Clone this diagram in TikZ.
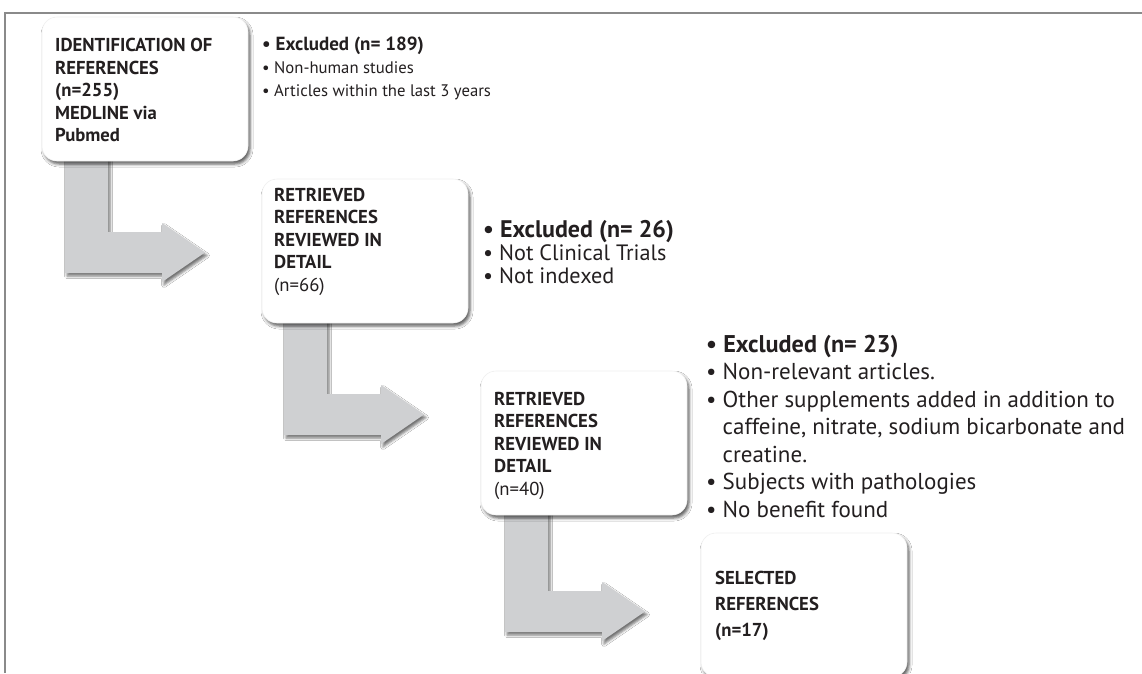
\documentclass[tikz,border=0pt]{standalone}
\usepackage{fontspec}
\setmainfont{PT Sans}
\usetikzlibrary{shadows.blur}
\definecolor{txt}{HTML}{231F20}
\definecolor{arrowgray}{HTML}{CFD0D2}
\definecolor{framegray}{HTML}{8A8A8A}
\tikzset{
  refbox/.style={draw=black!6, line width=0.6pt, fill=white, rounded corners=15pt,
    blur shadow={shadow xshift=2pt, shadow yshift=-3pt, shadow blur radius=3pt, shadow opacity=65}},
  boxtext/.style={inner sep=0pt, anchor=north west, align=left, text=txt,
    font=\fontsize{18.7}{22.5}\selectfont\bfseries},
  grouptext/.style={inner sep=0pt, anchor=north west, align=left, text=txt},
  bigarrow/.style={fill=arrowgray, draw=none,
    blur shadow={shadow xshift=2pt, shadow yshift=-3pt, shadow blur radius=2.5pt, shadow opacity=55}},
  frameline/.style={draw=framegray, line width=1.3pt}
}
\begin{document}
\begin{tikzpicture}[x=1pt,y=-1pt]
\path[use as bounding box, clip] (0,0) rectangle (1142,673);
\fill[white] (0,0) rectangle (1142,673);
% frame
\coordinate (fl) at (5,673);
\coordinate (fc) at (5,13);
\coordinate (fr) at (1142,13);
\draw[frameline] (fl) -- (fc) -- (fr);

% arrows (drawn first, boxes cover their tops)
\foreach \sx/\sy/\by in {65/150/273, 284/313/435, 505/505/632}{
  \path[bigarrow] (\sx,\sy) -- (\sx+43,\sy) -- (\sx+43,\by-41) -- (\sx+97,\by-41)
    -- (\sx+97,\by-50) -- (\sx+140,\by-20.5) -- (\sx+97,\by+9) -- (\sx+97,\by) -- (\sx,\by) -- cycle;
}

% boxes
\coordinate (b1) at (42,17);
\coordinate (b2) at (262,179);
\coordinate (b3) at (481,371);
\coordinate (b4) at (701,533);
\foreach \b in {b1,b2,b3,b4}{
  \path[refbox] (\b) rectangle ++(206,144);
}

\node[boxtext] (t1) at ([shift={(13,21)}]b1)
  {IDENTIFICATION OF\\REFERENCES\\(n=255)\\MEDLINE via\\Pubmed};
\node[boxtext] (t2) at ([shift={(12,9)}]b2)
  {RETRIEVED\\REFERENCES\\REVIEWED IN\\DETAIL\\\mdseries(n=66)};
\node[boxtext] (t3) at ([shift={(13,21)}]b3)
  {RETRIEVED\\REFERENCES\\REVIEWED IN\\DETAIL\\\mdseries(n=40)};
\node[boxtext, font=\fontsize{18.7}{26}\selectfont\bfseries] (t4) at ([shift={(14,38)}]b4)
  {SELECTED\\REFERENCES\\(n=17)};

% exclusion lists
\node[grouptext, font=\fontsize{16.7}{23}\selectfont] (e1) at (262,37)
  {{\fontsize{19}{23}\selectfont\bfseries • Excluded (n= 189)}\\
   • Non-human studies\\
   • Articles within the last 3 years};
\node[grouptext, font=\fontsize{22.2}{23}\selectfont] (e2) at (483,220)
  {{\fontsize{24}{23}\selectfont\bfseries • Excluded (n= 26)}\\
   • Not Clinical Trials\\
   • Not indexed};
\node[grouptext, font=\fontsize{23}{27.5}\selectfont] (e3) at (706,335)
  {{\fontsize{24.2}{27.5}\selectfont\bfseries • Excluded (n= 23)}\\
   • Non-relevant articles.\\
   • Other supplements added in addition to\\
   \hphantom{• }caffeine, nitrate, sodium bicarbonate and\\
   \hphantom{• }creatine.\\
   • Subjects with pathologies\\
   • No benefit found};
\end{tikzpicture}
\end{document}
